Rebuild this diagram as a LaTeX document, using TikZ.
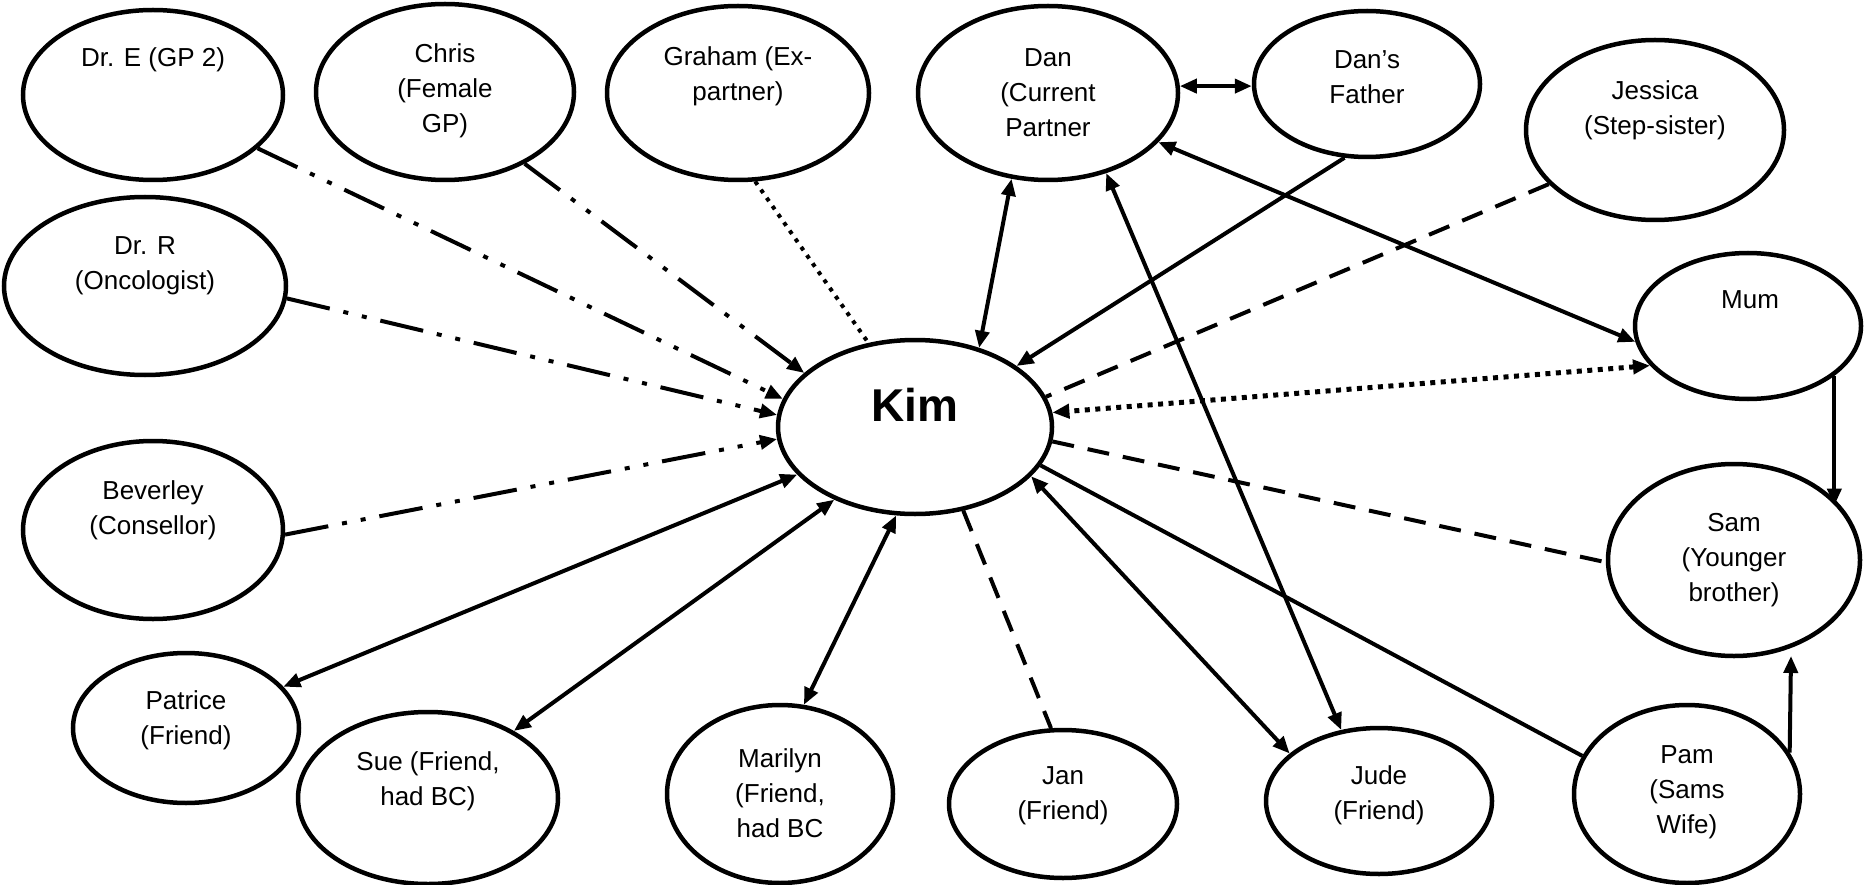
\documentclass[tikz,border=0pt]{standalone}
\usepackage{fontspec}
\setmainfont{Liberation Sans}
\usetikzlibrary{shapes.geometric,arrows.meta}
\begin{document}
\begin{tikzpicture}[x=1pt,y=-1pt,
  person/.style={ellipse,draw,line width=4.5pt,inner sep=0pt},
  lbl/.style={align=center,font=\fontsize{26}{35}\selectfont},
  link/.style={line width=4pt},
  oneway/.style={-{Triangle[length=17pt,width=14pt]}},
  twoway/.style={{Triangle[length=17pt,width=14pt]}-{Triangle[length=17pt,width=14pt]}},
  dashdotdot/.style={dash pattern=on 44pt off 14pt on 5pt off 14pt on 5pt off 14pt},
  dashlink/.style={dash pattern=on 22pt off 14pt},
  dotlink/.style={dash pattern=on 4pt off 6pt},
  bigdots/.style={line width=5pt,dash pattern=on 5pt off 5.5pt},
]
\useasboundingbox (0,0) rectangle (1865,885);

% people
\node[person,minimum width=260pt,minimum height=170pt] (drE) at (153,95) {};
\node[person,minimum width=258pt,minimum height=176pt] (chris) at (445,92) {};
\node[person,minimum width=262pt,minimum height=174pt] (graham) at (738,93) {};
\node[person,minimum width=260pt,minimum height=174pt] (dan) at (1048,93) {};
\node[person,minimum width=226pt,minimum height=146pt] (dansf) at (1367,84) {};
\node[person,minimum width=258pt,minimum height=180pt] (jessica) at (1655,130) {};
\node[person,minimum width=282pt,minimum height=178pt] (drR) at (145,286) {};
\node[person,minimum width=226pt,minimum height=146pt] (mum) at (1748,326) {};
\node[person,minimum width=274pt,minimum height=174pt] (kim) at (915,427) {};
\node[person,minimum width=260pt,minimum height=178pt] (bev) at (153,530) {};
\node[person,minimum width=252pt,minimum height=192pt] (sam) at (1734,560) {};
\node[person,minimum width=226pt,minimum height=150pt] (patrice) at (186,728) {};
\node[person,minimum width=260pt,minimum height=172pt] (sue) at (428,798) {};
\node[person,minimum width=226pt,minimum height=178pt] (marilyn) at (780,794) {};
\node[person,minimum width=228pt,minimum height=148pt] (jan) at (1063,804) {};
\node[person,minimum width=226pt,minimum height=146pt] (jude) at (1379,801) {};
\node[person,minimum width=226pt,minimum height=178pt] (pam) at (1687,794) {};

% names
\node[lbl] (drE-t) at (153,60) {Dr. E (GP 2)};
\node[lbl] (chris-t) at (445,91) {Chris\\(Female\\GP)};
\node[lbl] (graham-t) at (738,76) {Graham (Ex-\\partner)};
\node[lbl] (dan-t) at (1048,93) {Dan\\(Current\\Partner};
\node[lbl] (dansf-t) at (1367,77) {Dan’s\\Father};
\node[lbl] (jessica-t) at (1655,110) {Jessica\\(Step-sister)};
\node[lbl] (drR-t) at (145,266) {Dr. R\\(Oncologist)};
\node[lbl] (mum-t) at (1750,300) {Mum};
\node[font=\fontsize{46}{50}\selectfont\bfseries] (kim-t) at (915,405) {Kim};
\node[lbl] (bev-t) at (153,510) {Beverley\\(Consellor)};
\node[lbl] (sam-t) at (1734,560) {Sam\\(Younger\\brother)};
\node[lbl] (patrice-t) at (186,720) {Patrice\\(Friend)};
\node[lbl] (sue-t) at (428,781) {Sue (Friend,\\had BC)};
\node[lbl] (marilyn-t) at (780,793) {Marilyn\\(Friend,\\had BC};
\node[lbl] (jan-t) at (1063,796) {Jan\\(Friend)};
\node[lbl] (jude-t) at (1379,795) {Jude\\(Friend)};
\node[lbl] (pam-t) at (1687,792) {Pam\\(Sams\\Wife)};

% professionals
\draw[link,oneway,dashdotdot] (drE.-27) -- (kim.168);
\draw[link,oneway,dashdotdot] (chris.-42) -- (kim.154);
\draw[link,oneway,dashdotdot] (drR.-5) -- (kim.175);
\draw[link,oneway,dashdotdot] (bev.-2) -- (kim.185);
\draw[link,dotlink] (graham.-79) -- (kim.119);

% partner and family
\draw[link,twoway] (kim.51) -- (dan.-113);
\draw[link,twoway] (dan.-54) -- (jude.118);
\draw[link,oneway] (dansf.-107) -- (kim.31);
\draw[link,twoway] (dan.3) -- (dan.3 -| dansf.west);
\draw[link,twoway] (dan.-24) -- (mum.188);
\draw[link,dashlink] (jessica.207) -- (kim.13);
\draw[link,bigdots,twoway] (mum.202) -- (kim.6);
\draw[link,dashlink] (kim.-6) -- (sam.181);
\draw[link] (kim.-17) -- (pam.160);
\draw[link,oneway] (mum.-30) -- (mum.-30 |- sam.27);
\draw[link,oneway,shorten >=8pt] (pam.22) -- (sam.-57);

% friends
\draw[link,twoway] (kim.-23) -- (jude.152);
\draw[link,dashlink] (kim.-60) -- (jan.99);
\draw[link,twoway] (kim.-102) -- (marilyn.75);
\draw[link,twoway] (kim.222) -- (sue.38);
\draw[link,twoway] (kim.202) -- (patrice.23);
\end{tikzpicture}
\end{document}
